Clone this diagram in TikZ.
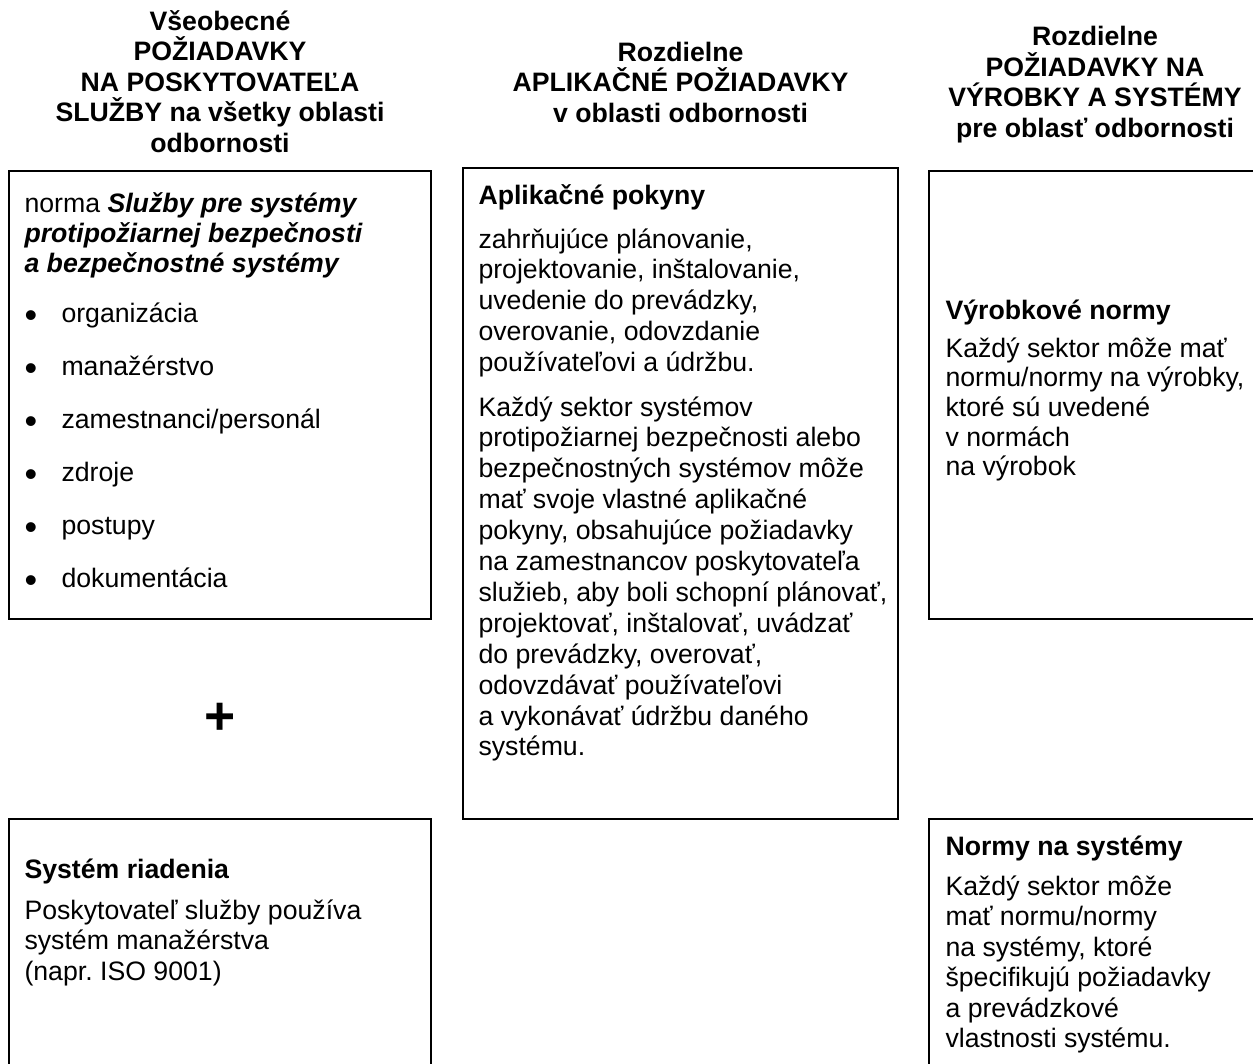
\documentclass[tikz,border=0pt]{standalone}
\usepackage{fontspec}
\setmainfont{Liberation Sans}
\frenchspacing
\begin{document}
\begin{tikzpicture}[x=0.375pt,y=-0.375pt,
  txt/.style={inner sep=0pt, anchor=base west, font=\fontsize{10}{11.5}\selectfont},
  txtb/.style={txt, font=\fontsize{10}{11.5}\selectfont\bfseries},
  txtbi/.style={txt, font=\fontsize{10}{11.5}\selectfont\bfseries\itshape},
  hd/.style={inner sep=0pt, anchor=base, font=\fontsize{10}{11.5}\selectfont\bfseries},
  bul/.style={inner sep=0pt, anchor=base west, font=\fontsize{13.5}{13.5}\selectfont},
  bx/.style={line width=0.75pt}]
\useasboundingbox (0,0) rectangle (1253,1063);
\begin{scope}
  \clip (0,0) rectangle (1253,1063);
  \draw[bx] (9,171) rectangle (431,619);
  \draw[bx] (463,168) rectangle (898,819);
  \draw[bx] (929,171) rectangle (1290,619);
  \draw[bx] (9,819) rectangle (431,1100);
  \draw[bx] (929,819) rectangle (1290,1100);
\end{scope}

% column headers
\foreach \t [count=\i from 0] in {Všeobecné, POŽIADAVKY, NA POSKYTOVATEĽA, SLUŽBY na všetky oblasti, odbornosti}
  \node[hd] (ha\i) at (220,30+30.5*\i) {\t};
\foreach \t [count=\i from 0] in {Rozdielne, APLIKAČNÉ POŽIADAVKY, v oblasti odbornosti}
  \node[hd] (hb\i) at (680.5,61+30.5*\i) {\t};
\foreach \t [count=\i from 0] in {Rozdielne, POŽIADAVKY NA, VÝROBKY A SYSTÉMY, pre oblasť odbornosti}
  \node[hd] (hc\i) at (1095,45.5+30.5*\i) {\t};

% left top box
\node[txt] (n0) at (24,212) {norma \textbf{\textit{Služby pre systémy}}};
\node[txtbi] (n1) at (24,242) {protipožiarnej bezpečnosti};
\node[txtbi] (n2) at (24,272) {a bezpečnostné systémy};
\foreach \t [count=\i from 0] in {organizácia, manažérstvo, zamestnanci/personál, zdroje, postupy, dokumentácia} {
  \node[bul] (bd\i) at (24,327+53*\i) {•};
  \node[txt] (bt\i) at (61,322+53*\i) {\t};
}

% plus
\node[inner sep=0pt, font=\fontsize{20}{20}\selectfont\bfseries] (plus) at (220,719) {+};

% middle box
\node[txtb] (m0) at (478,204) {Aplikačné pokyny};
\foreach \t [count=\i from 0] in {{zahrňujúce plánovanie,}, {projektovanie, inštalovanie,}, {uvedenie do prevádzky,}, {overovanie, odovzdanie}, {používateľovi a údržbu.}}
  \node[txt] (ma\i) at (478,248+30.8*\i) {\t};
\foreach \t [count=\i from 0] in {Každý sektor systémov, protipožiarnej bezpečnosti alebo, bezpečnostných systémov môže, mať svoje vlastné aplikačné, {pokyny, obsahujúce požiadavky}, na zamestnancov poskytovateľa, {služieb, aby boli schopní plánovať,}, {projektovať, inštalovať, uvádzať}, {do prevádzky, overovať,}, odovzdávať používateľovi, a vykonávať údržbu daného, systému.}
  \node[txt] (mb\i) at (478,416+30.9*\i) {\t};

% right top box
\node[txtb] (r0) at (945,319) {Výrobkové normy};
\foreach \t [count=\i from 0] in {Každý sektor môže mať, {normu/normy na výrobky,}, ktoré sú uvedené, v normách, na výrobok}
  \node[txt] (ra\i) at (945,357+29.7*\i) {\t};

% left bottom box
\node[txtb] (s0) at (24,878) {Systém riadenia};
\foreach \t [count=\i from 0] in {Poskytovateľ služby používa, systém manažérstva, (napr. ISO 9001)}
  \node[txt] (sa\i) at (24,919+30.5*\i) {\t};

% right bottom box
\node[txtb] (q0) at (945,855) {Normy na systémy};
\foreach \t [count=\i from 0] in {Každý sektor môže, mať normu/normy, {na systémy, ktoré}, špecifikujú požiadavky, a prevádzkové, vlastnosti systému.}
  \node[txt] (qa\i) at (945,895+30.5*\i) {\t};
\end{tikzpicture}
\end{document}
